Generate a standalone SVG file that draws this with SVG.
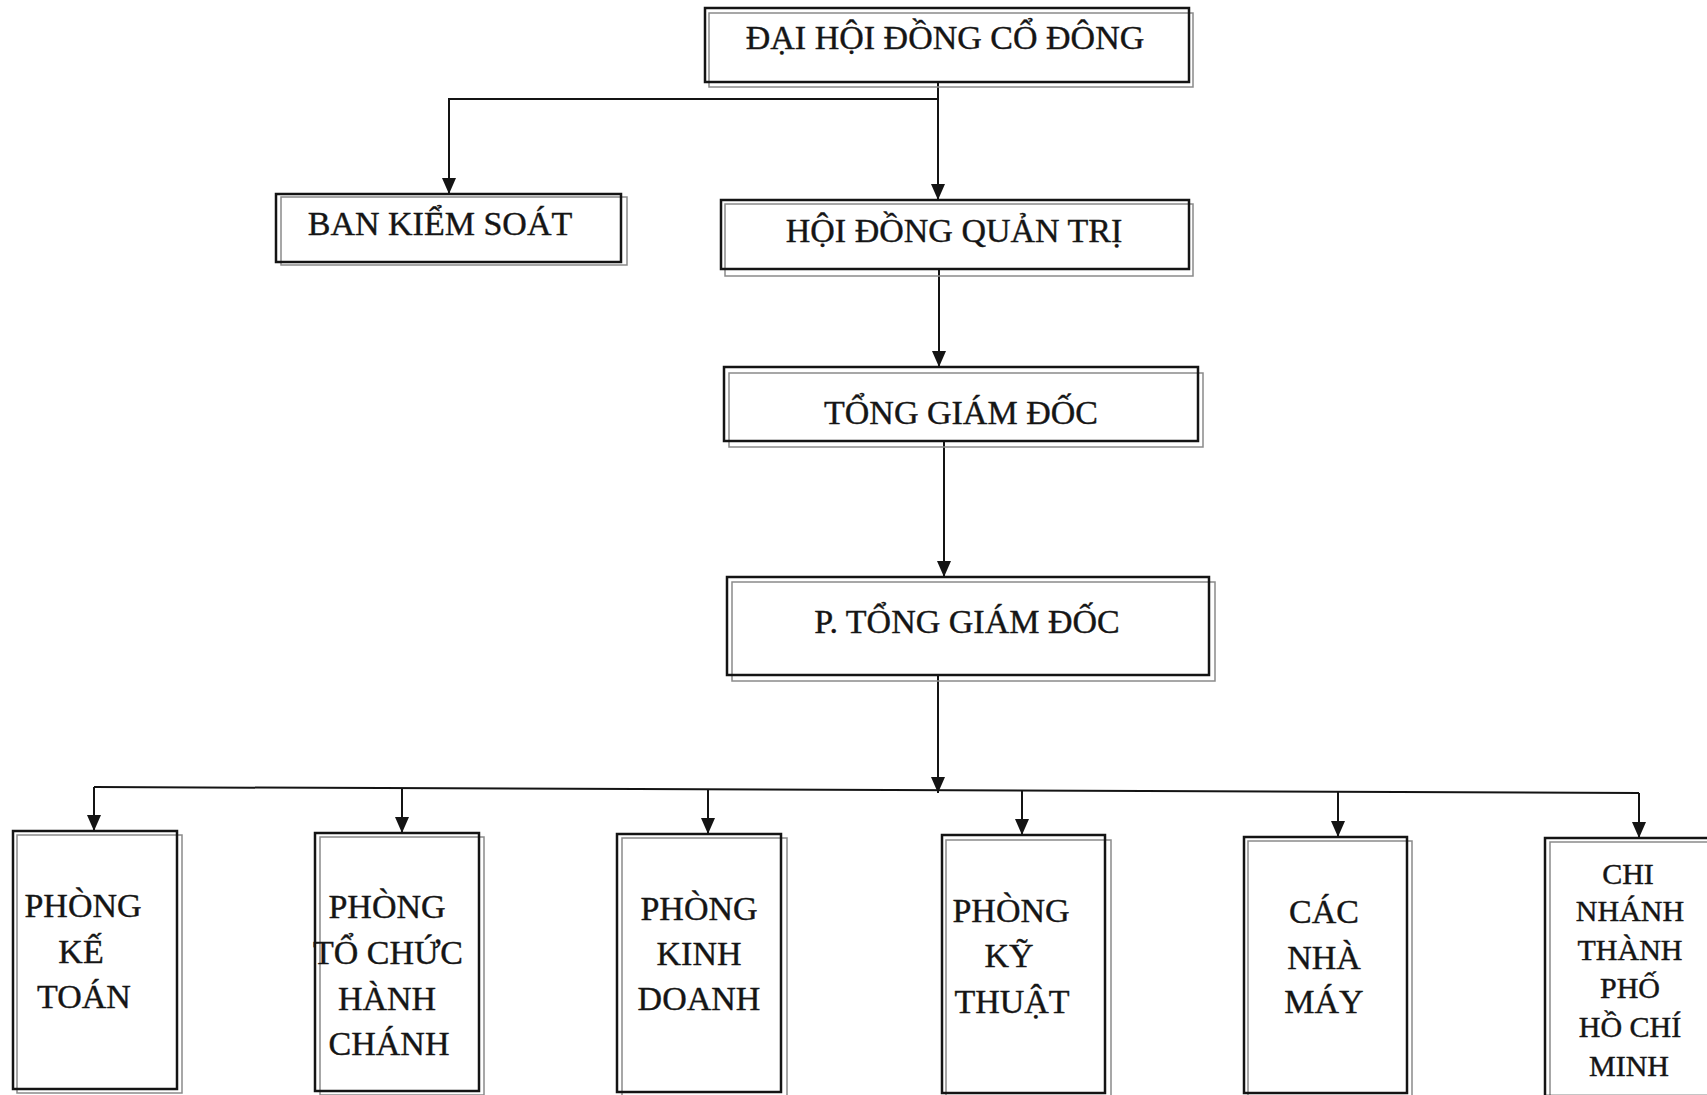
<svg xmlns="http://www.w3.org/2000/svg" width="1707" height="1095" viewBox="0 0 1707 1095">
<defs>
<style>
.outer{fill:none;stroke:#141414;stroke-width:2.5}
.inner{fill:none;stroke:#8a8a8a;stroke-width:1.5}
.conn{fill:none;stroke:#141414;stroke-width:2}
text{font-family:"Liberation Serif","Times New Roman",serif;fill:#151515;stroke:#151515;stroke-width:0.4;text-anchor:middle}
.t{font-size:34px}
.s{font-size:30px}
</style>
<marker id="arr" markerUnits="userSpaceOnUse" markerWidth="16" markerHeight="14" viewBox="0 0 16 14" refX="16" refY="7" orient="auto">
<path d="M0,0 L16,7 L0,14 z" fill="#141414"/>
</marker>
</defs>
<rect width="1707" height="1095" fill="#ffffff"/>

<g id="connectors">
<line class="conn" x1="938" y1="82" x2="938" y2="200" marker-end="url(#arr)"/>
<polyline class="conn" points="938,99 449,99 449,194" marker-end="url(#arr)"/>
<line class="conn" x1="939" y1="269" x2="939" y2="367" marker-end="url(#arr)"/>
<line class="conn" x1="944" y1="441" x2="944" y2="577" marker-end="url(#arr)"/>
<line class="conn" x1="938" y1="675" x2="938" y2="793" marker-end="url(#arr)"/>
<line class="conn" x1="94" y1="787" x2="1639" y2="793"/>
<line class="conn" x1="94" y1="787" x2="94" y2="831" marker-end="url(#arr)"/>
<line class="conn" x1="402" y1="788" x2="402" y2="833" marker-end="url(#arr)"/>
<line class="conn" x1="708" y1="789" x2="708" y2="834" marker-end="url(#arr)"/>
<line class="conn" x1="1022" y1="790" x2="1022" y2="835" marker-end="url(#arr)"/>
<line class="conn" x1="1338" y1="792" x2="1338" y2="837" marker-end="url(#arr)"/>
<line class="conn" x1="1639" y1="793" x2="1639" y2="838" marker-end="url(#arr)"/>
</g>

<g id="dai-hoi-dong-co-dong">
<rect class="inner" x="709" y="13" width="484" height="74"/>
<rect class="outer" x="705" y="8" width="484" height="74"/>
<text class="t" x="945" y="49">ĐẠI HỘI ĐỒNG CỔ ĐÔNG</text>
</g>

<g id="ban-kiem-soat">
<rect class="inner" x="281" y="197" width="346" height="68"/>
<rect class="outer" x="276" y="194" width="345" height="68"/>
<text class="t" x="440" y="235">BAN KIỂM SOÁT</text>
</g>

<g id="hoi-dong-quan-tri">
<rect class="inner" x="725" y="204" width="468" height="72"/>
<rect class="outer" x="721" y="200" width="468" height="69"/>
<text class="t" x="954" y="242">HỘI ĐỒNG QUẢN TRỊ</text>
</g>

<g id="tong-giam-doc">
<rect class="inner" x="729" y="373" width="474" height="74"/>
<rect class="outer" x="724" y="367" width="474" height="74"/>
<text class="t" x="961" y="424">TỔNG GIÁM ĐỐC</text>
</g>

<g id="p-tong-giam-doc">
<rect class="inner" x="732" y="582" width="483" height="99"/>
<rect class="outer" x="727" y="577" width="482" height="98"/>
<text class="t" x="967" y="633">P. TỔNG GIÁM ĐỐC</text>
</g>

<g id="phong-ke-toan">
<rect class="inner" x="17" y="835" width="165" height="258"/>
<rect class="outer" x="13" y="831" width="164" height="258"/>
<text class="t" x="83" y="917">PHÒNG</text>
<text class="t" x="81" y="963">KẾ</text>
<text class="t" x="84" y="1008">TOÁN</text>
</g>

<g id="phong-to-chuc-hanh-chanh">
<rect class="inner" x="320" y="837" width="164" height="258"/>
<rect class="outer" x="315" y="833" width="164" height="258"/>
<text class="t" x="387" y="918">PHÒNG</text>
<text class="t" x="388" y="964">TỔ CHỨC</text>
<text class="t" x="387" y="1010">HÀNH</text>
<text class="t" x="389" y="1055">CHÁNH</text>
</g>

<g id="phong-kinh-doanh">
<rect class="inner" x="622" y="838" width="165" height="258"/>
<rect class="outer" x="617" y="834" width="164" height="258"/>
<text class="t" x="699" y="920">PHÒNG</text>
<text class="t" x="699" y="965">KINH</text>
<text class="t" x="699" y="1010">DOANH</text>
</g>

<g id="phong-ky-thuat">
<rect class="inner" x="946" y="840" width="165" height="258"/>
<rect class="outer" x="942" y="835" width="163" height="258"/>
<text class="t" x="1011" y="922">PHÒNG</text>
<text class="t" x="1009" y="967">KỸ</text>
<text class="t" x="1012" y="1013">THUẬT</text>
</g>

<g id="cac-nha-may">
<rect class="inner" x="1248" y="841" width="164" height="258"/>
<rect class="outer" x="1244" y="837" width="163" height="256"/>
<text class="t" x="1324" y="923">CÁC</text>
<text class="t" x="1324" y="969">NHÀ</text>
<text class="t" x="1324" y="1013">MÁY</text>
</g>

<g id="chi-nhanh-tphcm">
<rect class="inner" x="1550" y="842" width="170" height="258"/>
<rect class="outer" x="1545" y="838" width="170" height="258"/>
<text class="s" x="1628" y="884">CHI</text>
<text class="s" x="1630" y="921">NHÁNH</text>
<text class="s" x="1630" y="960">THÀNH</text>
<text class="s" x="1630" y="998">PHỐ</text>
<text class="s" x="1630" y="1037">HỒ CHÍ</text>
<text class="s" x="1629" y="1076">MINH</text>
</g>
</svg>
